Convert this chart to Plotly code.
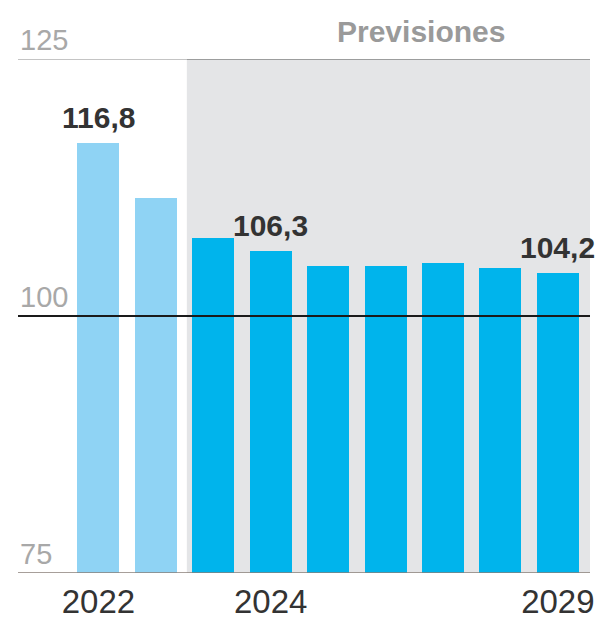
import plotly.graph_objects as go

# Data
positions = [0, 1, 2, 3, 4, 5, 6, 7, 8]
values = [116.8, 111.5, 107.6, 106.3, 104.9, 104.9, 105.2, 104.7, 104.2]
value_labels = ["116,8", "", "", "106,3", "", "", "", "", "104,2"]
is_forecast = [False, False, True, True, True, True, True, True, True]
tick_positions = [0, 3, 8]
tick_labels = ["2022", "2024", "2029"]
y_ticks = [75, 100, 125]
forecast_label = "Previsiones"

LIGHT = "#8fd3f4"
DARK = "#00b4ec"
SHADE = "#e4e5e7"

colors = [DARK if f else LIGHT for f in is_forecast]

fig = go.Figure()
fig.add_trace(go.Bar(
    x=positions, y=values,
    marker=dict(color=colors, line=dict(width=0)),
    width=0.73, hoverinfo="skip",
))

x0, x1 = -1.40, 8.56
shade_start = 1.54

shapes = [
    dict(type="rect", xref="x", yref="y", x0=shade_start, x1=x1, y0=75, y1=125,
         fillcolor=SHADE, line=dict(width=0), layer="below"),
    dict(type="line", xref="x", yref="y", x0=x0, x1=shade_start, y0=125, y1=125,
         line=dict(color="#b0b0b0", width=1.5), layer="above"),
    dict(type="line", xref="x", yref="y", x0=shade_start, x1=x1, y0=125, y1=125,
         line=dict(color="#858585", width=1.5), layer="above"),
    dict(type="line", xref="x", yref="y", x0=x0, x1=x1, y0=100, y1=100,
         line=dict(color="#1a1a1a", width=1.8), layer="above"),
    dict(type="line", xref="x", yref="y", x0=x0, x1=x1, y0=75, y1=75,
         line=dict(color="#8a7f78", width=1.5), layer="above"),
]

annotations = []
for p, v, lab in zip(positions, values, value_labels):
    if lab:
        annotations.append(dict(x=p, y=v, xref="x", yref="y", text=lab, showarrow=False,
                                yanchor="bottom", yshift=7, xanchor="center",
                                font=dict(family="Liberation Sans", size=30, color="#333333",
                                          weight="bold")))
for t in y_ticks:
    annotations.append(dict(x=0, y=t, xref="paper", yref="y", text=str(t), showarrow=False,
                            xanchor="left", yanchor="bottom", yshift=1,
                            font=dict(family="Liberation Sans", size=29, color="#a8a8a8")))
annotations.append(dict(x=5.61, y=125, xref="x", yref="y",
                        text=forecast_label, showarrow=False, yanchor="bottom", yshift=9,
                        font=dict(family="Liberation Sans", size=30, color="#9a9a9a",
                                  weight="bold")))

fig.update_layout(
    width=596, height=619,
    margin=dict(l=18, r=6, t=59, b=46, autoexpand=False),
    paper_bgcolor="white", plot_bgcolor="white",
    showlegend=False,
    shapes=shapes, annotations=annotations,
    xaxis=dict(range=[x0, x1], tickmode="array", tickvals=tick_positions,
               ticktext=tick_labels, showgrid=False, zeroline=False, showline=False,
               ticks="", ticklabelstandoff=6, automargin=False,
               tickfont=dict(family="Liberation Sans", size=33, color="#333333"),
               fixedrange=True),
    yaxis=dict(range=[75, 125], showgrid=False, zeroline=False, showline=False,
               showticklabels=False, automargin=False, fixedrange=True),
    bargap=0,
)

fig.write_html(
    "out.html",
    config={"displayModeBar": False},
    post_script="document.body.style.margin='0';document.body.style.overflow='hidden';",
)
